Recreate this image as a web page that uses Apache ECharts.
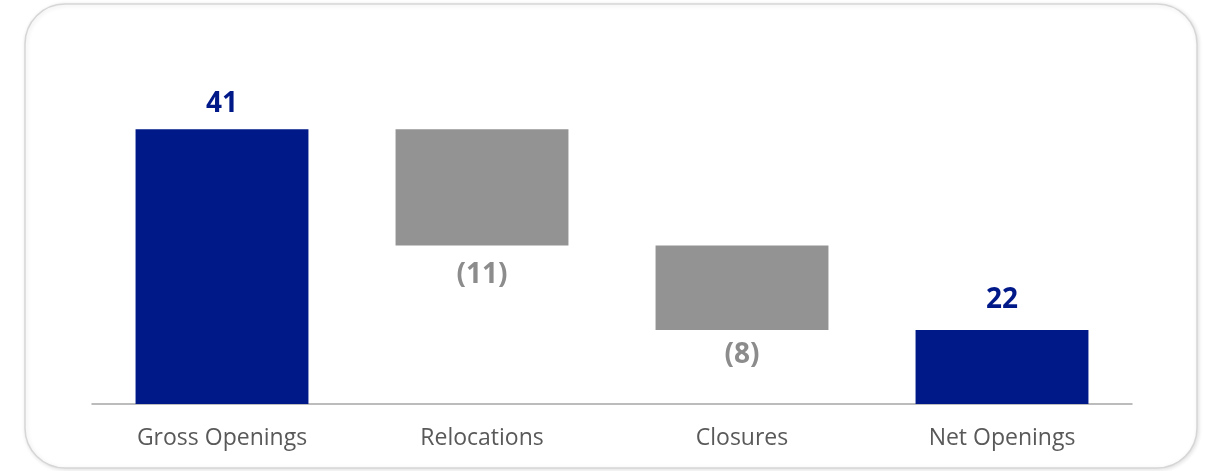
<!DOCTYPE html>
<html>
<head>
<meta charset="utf-8">
<script src="https://cdn.jsdelivr.net/npm/echarts@6/dist/echarts.min.js"></script>
<style>
  html, body { margin: 0; padding: 0; background: #ffffff; }
  #chart { width: 1206px; height: 471px; }
</style>
</head>
<body>
<div id="chart"></div>
<script>
// Store openings bridge: gross openings, less relocations and closures, gives net openings
const categories = ['Gross Openings', 'Relocations', 'Closures', 'Net Openings'];
const changes = [41, -11, -8, 22];
const isTotal = [true, false, false, true];
const valueLabels = ['41', '(11)', '(8)', '22'];

const NAVY = '#001989';
const GREY = '#939393';
// Spacing between each bar and its value label, in pixels
const LABEL_GAP = [11, 16, 11, 16];

// Floating bar geometry from the running total
const baseValues = [];
const barValues = [];
let running = 0;
changes.forEach((v, i) => {
  if (isTotal[i]) {
    baseValues.push(0);
    barValues.push(v);
    running = v;
  } else {
    const next = running + v;
    baseValues.push(Math.min(running, next));
    barValues.push(Math.abs(v));
    running = next;
  }
});

const chart = echarts.init(document.getElementById('chart'), null, { renderer: 'canvas' });

chart.setOption({
  backgroundColor: '#ffffff',
  animation: false,
  graphic: [{
    type: 'rect',
    shape: { x: 25, y: 4, width: 1172, height: 464, r: 40 },
    style: {
      fill: '#ffffff',
      stroke: '#d6d6d6',
      lineWidth: 1.5,
      shadowBlur: 4,
      shadowColor: 'rgba(0,0,0,0.12)',
      shadowOffsetX: 1,
      shadowOffsetY: 1
    },
    z: -10
  }],
  grid: { left: 92, right: 74, top: 87, bottom: 67 },
  xAxis: {
    type: 'category',
    data: categories,
    axisTick: { show: false },
    axisLine: { lineStyle: { color: '#a6a6a6', width: 1.5 } },
    axisLabel: {
      color: '#595959',
      fontFamily: 'Open Sans',
      fontSize: 23,
      margin: 23
    }
  },
  yAxis: {
    type: 'value',
    min: 15,
    max: 45,
    show: false,
    splitLine: { show: false }
  },
  series: [
    {
      type: 'bar',
      stack: 'bridge',
      data: baseValues,
      itemStyle: { color: 'transparent' },
      barWidth: '66.5%',
      clip: true,
      silent: true
    },
    {
      type: 'bar',
      stack: 'bridge',
      barWidth: '66.5%',
      clip: true,
      data: barValues.map((v, i) => ({
        value: v,
        itemStyle: { color: isTotal[i] ? NAVY : GREY },
        label: {
          show: true,
          position: isTotal[i] ? 'top' : 'bottom',
          distance: LABEL_GAP[i],
          formatter: valueLabels[i],
          color: isTotal[i] ? NAVY : '#8c8c8c',
          fontFamily: 'Open Sans',
          fontWeight: 'bold',
          fontSize: 28
        }
      }))
    }
  ]
});
</script>
</body>
</html>
